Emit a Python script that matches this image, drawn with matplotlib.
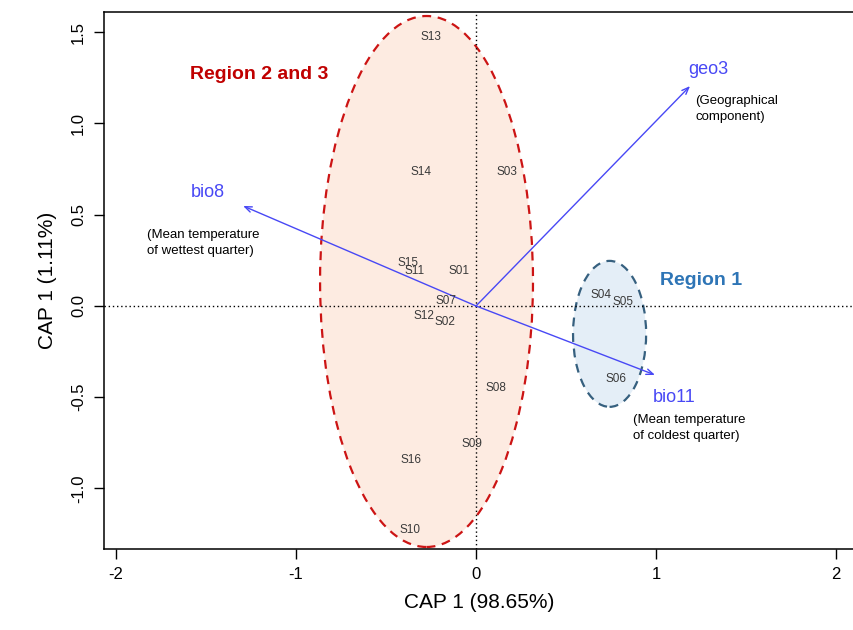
import numpy as np
import matplotlib.pyplot as plt
from matplotlib.patches import Ellipse

plt.rcParams['font.family'] = ['Liberation Sans', 'DejaVu Sans']
plt.rcParams['axes.unicode_minus'] = False

# site scores
sites = ['S13', 'S14', 'S03', 'S15', 'S11', 'S01', 'S07', 'S12', 'S02',
         'S08', 'S09', 'S16', 'S10', 'S04', 'S05', 'S06']
cap1 = [-0.25, -0.306, 0.172, -0.378, -0.344, -0.094, -0.167, -0.289, -0.172,
        0.111, -0.022, -0.361, -0.367, 0.694, 0.817, 0.778]
cap2 = [1.474, 0.734, 0.734, 0.234, 0.190, 0.192, 0.027, -0.055, -0.088,
        -0.449, -0.756, -0.844, -1.227, 0.060, 0.022, -0.40]

# environmental vectors
env_names = ['geo3', 'bio8', 'bio11']
env_x = [1.189, -1.294, 0.994]
env_y = [1.205, 0.548, -0.378]
env_desc = ['(Geographical\ncomponent)', '(Mean temperature\nof wettest quarter)',
            '(Mean temperature\nof coldest quarter)']

# groups: center x, center y, width, height
regions = ['Region 2 and 3', 'Region 1']
reg_cx = [-0.275, 0.742]
reg_cy = [0.134, -0.153]
reg_w = [1.183, 0.406]
reg_h = [2.91, 0.80]

fig = plt.figure(figsize=(8.54, 6.3), dpi=100)
ax = fig.add_axes([104/854, 81/630, 750/854, 537/630])

fills = ['#FDEBE1', '#E4EEF7']
edges = ['#CC1414', '#36607F']
for i in range(len(regions)):
    e = Ellipse((reg_cx[i], reg_cy[i]), reg_w[i], reg_h[i], facecolor=fills[i],
                edgecolor=edges[i], linestyle=(0, (4, 3)), lw=1.6, zorder=1)
    ax.add_patch(e)

ax.axhline(0, color='black', ls=(0, (1, 2)), lw=1, zorder=2)
ax.axvline(0, color='black', ls=(0, (1, 2)), lw=1, zorder=2)

for s, x, y in zip(sites, cap1, cap2):
    ax.text(x, y, s, fontsize=8.5, color='#3a3a3a', ha='center', va='center', zorder=4)

arrow_col = '#4848F5'
for i in range(len(env_names)):
    ax.annotate('', xy=(env_x[i], env_y[i]), xytext=(0, 0),
                arrowprops=dict(arrowstyle='->,head_length=0.5,head_width=0.2',
                                color=arrow_col, lw=1, shrinkA=0, shrinkB=0), zorder=3)

# vector labels
ax.text(1.29, 1.295, env_names[0], color=arrow_col, fontsize=13, ha='center', va='center')
ax.text(1.22, 1.155, env_desc[0], fontsize=9.5, ha='left', va='top', linespacing=1.45)
ax.text(-1.49, 0.62, env_names[1], color=arrow_col, fontsize=13, ha='center', va='center')
ax.text(-1.83, 0.42, env_desc[1], fontsize=9.5, ha='left', va='top', linespacing=1.45)
ax.text(1.1, -0.50, env_names[2], color=arrow_col, fontsize=13, ha='center', va='center')
ax.text(0.872, -0.59, env_desc[2], fontsize=9.5, ha='left', va='top', linespacing=1.45)

ax.text(-1.205, 1.27, regions[0], color='#C00000', fontsize=14, fontweight='bold',
        ha='center', va='center')
ax.text(1.25, 0.137, regions[1], color='#2E75B6', fontsize=14, fontweight='bold',
        ha='center', va='center')

ax.set_xlim(-2.067, 2.1)
ax.set_ylim(-1.332, 1.611)
ax.set_xticks([-2, -1, 0, 1, 2])
ax.set_yticks([-1.0, -0.5, 0.0, 0.5, 1.0, 1.5])
ax.set_yticklabels(['-1.0', '-0.5', '0.0', '0.5', '1.0', '1.5'], rotation=90, va='center')
ax.tick_params(direction='out', length=7, width=1, labelsize=12, pad=6)
ax.spines['right'].set_visible(False)
for sp in ['left', 'bottom', 'top']:
    ax.spines[sp].set_linewidth(1.1)

ax.set_xlabel('CAP 1 (98.65%)', fontsize=15, labelpad=8)
ax.set_ylabel('CAP 1 (1.11%)', fontsize=15, labelpad=10)

fig.savefig('out.png', dpi=100)
